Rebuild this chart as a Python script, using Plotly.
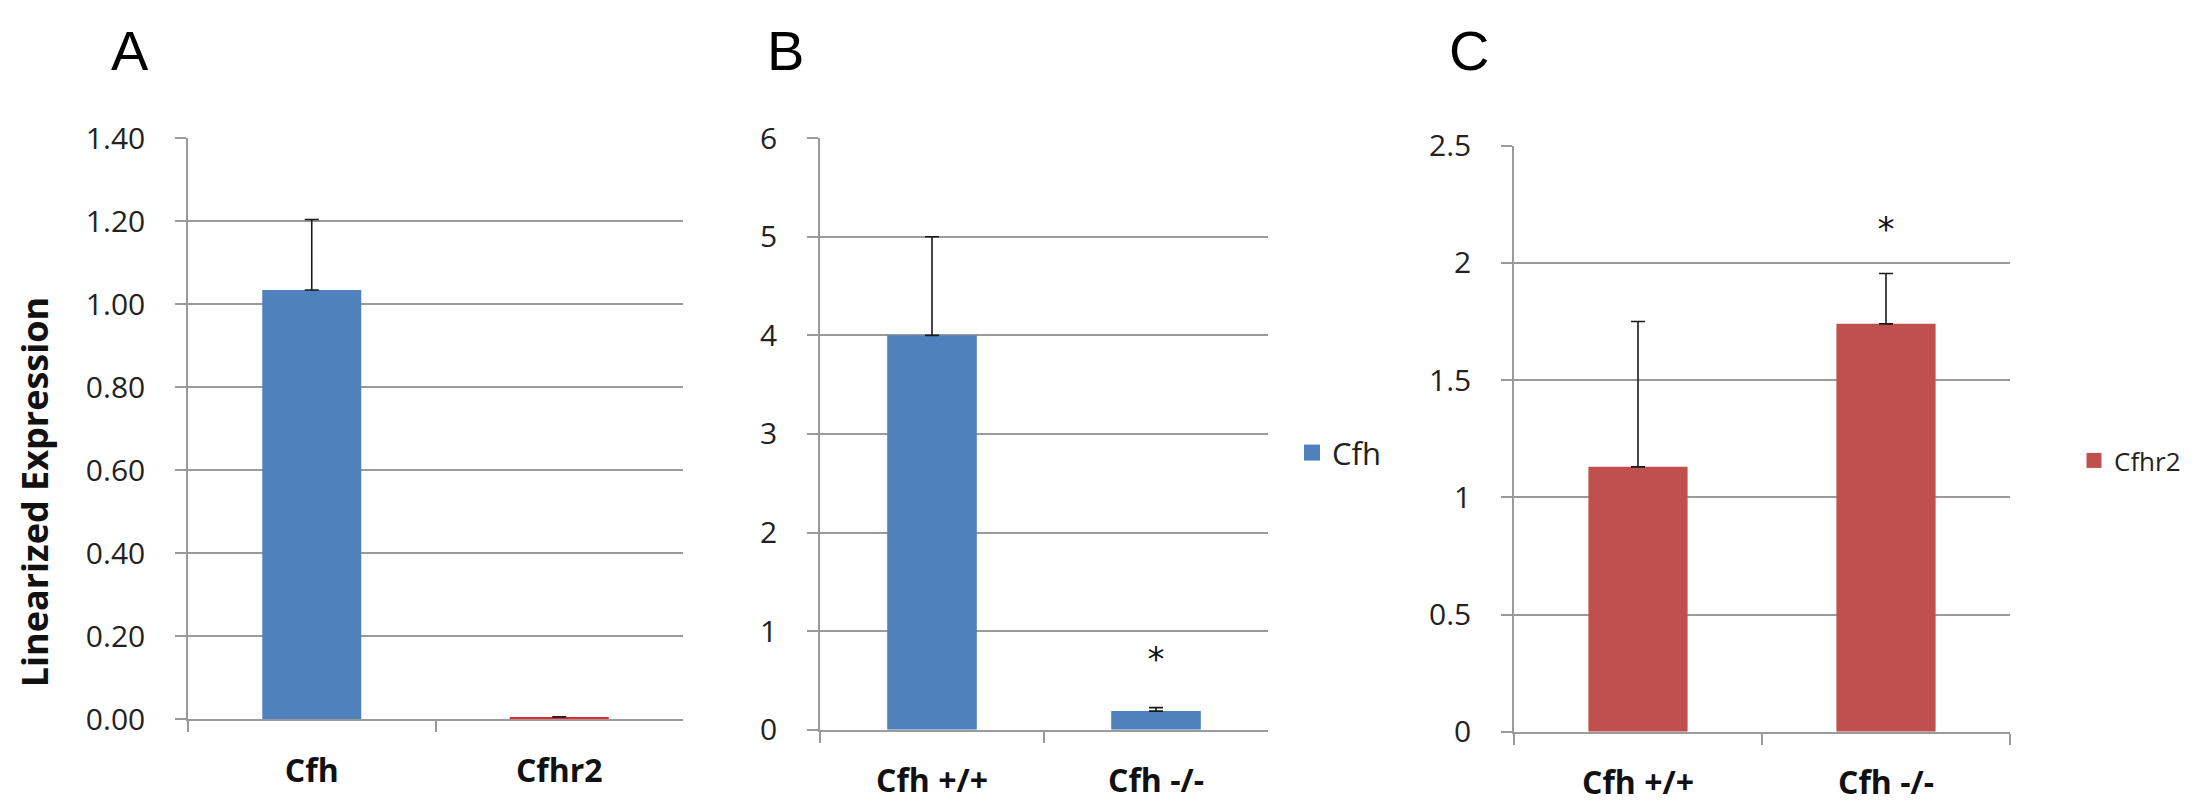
import plotly.graph_objects as go

# ---------------- data ----------------
panel_a_categories = ["Cfh", "Cfhr2"]
panel_a_values = [1.034, 0.006]
panel_a_errors = [0.17, 0.0]
panel_a_colors = ["#4F81BD", "#E0282E"]
panel_a_ticks = [0.0, 0.2, 0.4, 0.6, 0.8, 1.0, 1.2, 1.4]

panel_b_categories = ["Cfh +/+", "Cfh -/-"]
panel_b_values = [4.0, 0.19]
panel_b_errors = [1.0, 0.035]
panel_b_ticks = [0, 1, 2, 3, 4, 5, 6]
panel_b_series = "Cfh"

panel_c_categories = ["Cfh +/+", "Cfh -/-"]
panel_c_values = [1.13, 1.74]
panel_c_errors = [0.62, 0.215]
panel_c_ticks = [0, 0.5, 1, 1.5, 2, 2.5]
panel_c_series = "Cfhr2"

star_b = ("Cfh -/-", 0.68)
star_c = ("Cfh -/-", 2.13)

y_title = "Linearized Expression"
panel_letters = ["A", "B", "C"]

# ---------------- style ----------------
BLUE = "#4F81BD"
RED = "#C0504D"
GRID = "#9a9a9a"
TXT = "#222222"
TICK_FONT = dict(family="Open Sans", size=30, color=TXT)
CAT_FONT = dict(family="Open Sans", size=32, color="#111111", weight="bold")
W, H = 2199, 812


def px_x(p):
    return p / W


def px_y(p):
    return (H - p) / H


err_style = dict(type="data", symmetric=False, color="#1a1a1a", thickness=1.6, width=7)

fig = go.Figure()

fig.add_trace(go.Bar(
    x=panel_a_categories, y=panel_a_values, marker_color=panel_a_colors,
    marker_line_width=0, showlegend=False,
    error_y=dict(array=panel_a_errors, arrayminus=[0] * len(panel_a_errors), **err_style),
    xaxis="x", yaxis="y"))

fig.add_trace(go.Bar(
    x=panel_b_categories, y=panel_b_values, marker_color=BLUE, marker_line_width=0,
    showlegend=False,
    error_y=dict(array=panel_b_errors, arrayminus=[0] * len(panel_b_errors), **err_style),
    xaxis="x2", yaxis="y2"))

fig.add_trace(go.Bar(
    x=panel_c_categories, y=panel_c_values, marker_color=RED, marker_line_width=0,
    showlegend=False,
    error_y=dict(array=panel_c_errors, arrayminus=[0] * len(panel_c_errors), **err_style),
    xaxis="x3", yaxis="y3"))

# legend entries (square markers)
fig.add_trace(go.Scatter(x=[None], y=[None], mode="markers", name=panel_b_series,
                         marker=dict(symbol="square", size=16, color=BLUE),
                         legend="legend", xaxis="x2", yaxis="y2"))
fig.add_trace(go.Scatter(x=[None], y=[None], mode="markers", name=panel_c_series,
                         marker=dict(symbol="square", size=15, color=RED),
                         legend="legend2", xaxis="x3", yaxis="y3"))

# significance stars
fig.add_trace(go.Scatter(x=[star_b[0]], y=[star_b[1]], mode="text", text=["*"],
                         textfont=dict(family="DejaVu Sans", size=34, color="#111"),
                         showlegend=False, xaxis="x2", yaxis="y2"))
fig.add_trace(go.Scatter(x=[star_c[0]], y=[star_c[1]], mode="text", text=["*"],
                         textfont=dict(family="DejaVu Sans", size=34, color="#111"),
                         showlegend=False, xaxis="x3", yaxis="y3"))


def xaxis(domain, anchor):
    return dict(domain=domain, anchor=anchor, type="category", showline=True,
                linecolor=GRID, linewidth=1.6, ticks="outside", tickson="boundaries",
                ticklen=11, tickcolor=GRID, tickwidth=1.6, showgrid=False,
                tickfont=CAT_FONT, ticklabelstandoff=22, fixedrange=True)


def yaxis(domain, anchor, rng, ticks, fmt=None):
    d = dict(domain=domain, anchor=anchor, range=rng, tickvals=ticks, showline=True,
             linecolor=GRID, linewidth=1.6, ticks="outside", ticklen=11, tickcolor=GRID,
             tickwidth=1.6, showgrid=True, gridcolor=GRID, gridwidth=1.6, zeroline=False,
             tickfont=TICK_FONT, ticklabelstandoff=24, fixedrange=True)
    if fmt:
        d["tickformat"] = fmt
    return d


fig.update_layout(
    width=W, height=H, margin=dict(l=0, r=0, t=0, b=0),
    paper_bgcolor="white", plot_bgcolor="white",
    bargap=0.6,
    xaxis=xaxis([px_x(180), px_x(675)], "y"),
    yaxis=yaxis([px_y(727), px_y(114)], "x", [0, 1.4], panel_a_ticks, ".2f"),
    xaxis2=xaxis([px_x(812), px_x(1260)], "y2"),
    yaxis2=yaxis([px_y(738), px_y(114)], "x2", [0, 6], panel_b_ticks),
    xaxis3=xaxis([px_x(1506), px_x(2002)], "y3"),
    yaxis3=yaxis([px_y(740), px_y(122)], "x3", [0, 2.5], panel_c_ticks),
    legend=dict(x=px_x(1284), y=px_y(446), xanchor="left", yanchor="middle",
                font=dict(family="Open Sans", size=31, color=TXT),
                bgcolor="rgba(0,0,0,0)", itemsizing="trace"),
    legend2=dict(x=px_x(2066), y=px_y(454), xanchor="left", yanchor="middle",
                 font=dict(family="Open Sans", size=26, color=TXT),
                 bgcolor="rgba(0,0,0,0)", itemsizing="trace"),
    showlegend=True,
)

annotations = [
    dict(text=y_title, x=0, y=px_y(488), xref="paper", yref="paper",
         textangle=-90, showarrow=False, xanchor="left", yanchor="middle",
         font=dict(family="Open Sans", size=36, color="#111111", weight="bold")),
]
for letter, cx in zip(panel_letters, [122, 777, 1461]):
    annotations.append(dict(text=letter, x=px_x(cx), y=px_y(57), xref="paper", yref="paper",
                            showarrow=False, xanchor="center", yanchor="bottom",
                            font=dict(family="Liberation Sans", size=56, color="#000")))
fig.update_layout(annotations=annotations)

fig.write_html("out.html")
